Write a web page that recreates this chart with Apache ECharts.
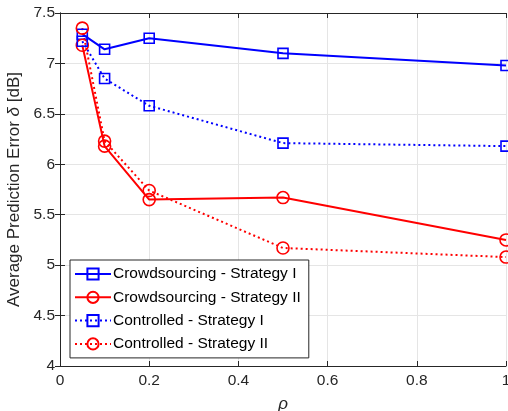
<!DOCTYPE html>
<html><head><meta charset="utf-8">
<script src="https://cdn.jsdelivr.net/npm/echarts@6/dist/echarts.min.js"></script>
<style>html,body{margin:0;padding:0;background:#fff}#c{width:508px;height:411px}</style>
</head><body><div id="c"></div>
<script>
var rho = [0.05, 0.1, 0.2, 0.5, 1.0];
var crowdI = [7.29, 7.14, 7.25, 7.10, 6.98];
var crowdII = [7.18, 6.18, 5.65, 5.67, 5.25];
var ctrlI = [7.22, 6.85, 6.58, 6.21, 6.18];
var ctrlII = [7.35, 6.23, 5.74, 5.17, 5.08];
var names = ['Crowdsourcing - Strategy I','Crowdsourcing - Strategy II','Controlled - Strategy I','Controlled - Strategy II'];

function pairs(ys){ return rho.map(function(x,i){return [x, ys[i]];}); }
var FONT = 'Liberation Sans, Arial, sans-serif';
var TXT = '#262626';
function mk(name, ys, color, symbol, size, type){
  return {
    name: name, type: 'line', data: pairs(ys), symbol: symbol, symbolSize: size,
    lineStyle: {color: color, width: 2, type: type},
    itemStyle: {color: 'rgba(0,0,0,0)', borderWidth: 1.6, borderColor: color},
    emphasis: {disabled: true}, animation: false, z: 3
  };
}
var chart = echarts.init(document.getElementById('c'));
var axisLine = {show: true, lineStyle: {color: '#262626', width: 1}};
var tick = {inside: true, length: 5, lineStyle: {color: '#262626'}};
chart.setOption({
  animation: false,
  grid: {left: 60, right: 2, top: 13, bottom: 45, containLabel: false, outerBoundsMode: 'none'},
  xAxis: [{
    type: 'value', min: 0, max: 1, interval: 0.2,
    axisLine: axisLine, axisTick: tick,
    axisLabel: {color: TXT, fontSize: 15.5, fontFamily: FONT, margin: 7,
      formatter: function(v){ return String(+v.toFixed(1)); }},
    splitLine: {show: true, lineStyle: {color: '#e5e5e5', width: 1}},
    name: 'ρ', nameLocation: 'middle', nameGap: 30,
    nameTextStyle: {color: TXT, fontSize: 17, fontStyle: 'italic', fontFamily: FONT}
  }, {
    type: 'value', position: 'top', min: 0, max: 1, interval: 0.2,
    axisLine: axisLine, axisTick: tick,
    axisLabel: {show: false}, splitLine: {show: false}
  }],
  yAxis: [{
    type: 'value', min: 4, max: 7.5, interval: 0.5,
    axisLine: axisLine, axisTick: tick,
    axisLabel: {color: TXT, fontSize: 15.5, fontFamily: FONT, margin: 5},
    splitLine: {show: true, lineStyle: {color: '#e5e5e5', width: 1}},
    name: 'Average Prediction Error {i|δ} [dB]', nameLocation: 'middle', nameGap: 36, nameRotate: 90,
    nameTextStyle: {color: TXT, fontSize: 17, fontFamily: FONT,
      rich: {i: {fontStyle: 'italic', fontSize: 17, color: TXT, fontFamily: FONT}}}
  }, {
    type: 'value', position: 'right', min: 4, max: 7.5, interval: 0.5,
    axisLine: axisLine, axisTick: tick,
    axisLabel: {show: false}, splitLine: {show: false}
  }],
  legend: {
    orient: 'vertical', left: 70, top: 260, data: names,
    backgroundColor: '#fff', borderColor: '#262626', borderWidth: 1,
    padding: [6, 8, 6, 4], itemGap: 7.3, itemWidth: 36, itemHeight: 14,
    textStyle: {color: '#000', fontSize: 15.5, fontFamily: FONT, padding: [0,0,0,-3]},
    selectedMode: false
  },
  series: [
    mk(names[0], crowdI, '#0000ff', 'rect', 10, 'solid'),
    mk(names[1], crowdII, '#ff0000', 'circle', 12, 'solid'),
    mk(names[2], ctrlI, '#0000ff', 'rect', 10, [2, 3]),
    mk(names[3], ctrlII, '#ff0000', 'circle', 12, [2, 3])
  ]
});
</script></body></html>
